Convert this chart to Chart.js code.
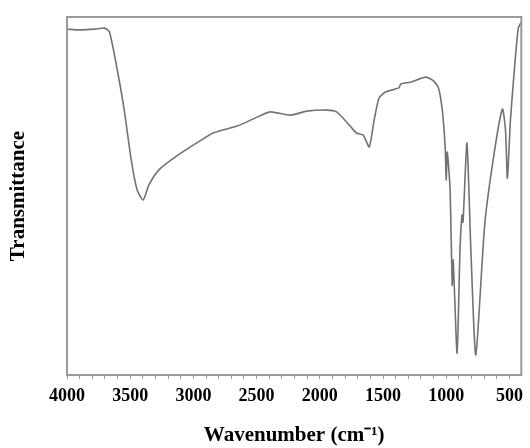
<!DOCTYPE html>
<html>
<head>
<meta charset="utf-8">
<script src="https://cdn.jsdelivr.net/npm/chart.js@4.4.1/dist/chart.umd.min.js"></script>
<style>
  html, body { margin: 0; padding: 0; background: #fff; }
  #wrap { width: 530px; height: 448px; }
</style>
</head>
<body>
<div id="wrap"><canvas id="irChart" width="530" height="448"></canvas></div>
<script>
// IR spectrum (transmittance in arbitrary units 0-100)
const wavenumbers = [4000, 3898, 3781, 3703, 3664, 3602, 3547, 3492, 3445, 3398,
  3352, 3273, 3156, 2961, 2844, 2648, 2492, 2391, 2234, 2102,
  1945, 1867, 1766, 1711, 1656, 1609, 1570, 1531, 1477, 1375,
  1359, 1281, 1164, 1109, 1063, 1031, 1008, 1000, 992, 969,
  953, 945, 914, 891, 875, 867, 836, 805, 766, 695,
  617, 555, 531, 516, 492, 461, 430, 406];
const transmittance = [96.6, 96.4, 96.6, 96.9, 95.8, 85.2, 74.0, 60.1, 51.7, 48.9,
  53.1, 57.3, 60.6, 65.1, 67.6, 69.6, 72.1, 73.5, 72.6, 73.7,
  74.0, 73.5, 69.8, 67.6, 67.0, 63.7, 71.2, 77.4, 79.1, 80.2,
  81.3, 81.8, 83.2, 82.4, 80.4, 74.0, 63.4, 54.5, 62.3, 51.7,
  25.1, 32.1, 6.1, 34.9, 44.7, 42.7, 64.8, 34.9, 5.6, 42.2,
  62.8, 74.3, 68.4, 55.0, 71.2, 85.2, 96.9, 98.6];
const majorTicks = [4000, 3500, 3000, 2500, 2000, 1500, 1000, 500];

const minorTicks = [];
for (let w = 4000; w >= 500; w -= 100) minorTicks.push(w);

const frameBox = {
  id: "frameBox",
  afterDraw(chart) {
    const { ctx, chartArea: a } = chart;
    ctx.save();
    ctx.strokeStyle = "#9a9a9a";
    ctx.lineWidth = 2;
    ctx.strokeRect(a.left, a.top, a.right - a.left, a.bottom - a.top);
    ctx.restore();
  }
};

new Chart(document.getElementById("irChart"), {
  type: "line",
  data: {
    datasets: [{
      data: wavenumbers.map((w, i) => ({ x: w, y: transmittance[i] })),
      borderColor: "#727272",
      borderWidth: 1.6,
      pointRadius: 0,
      tension: 0.2,
      fill: false
    }]
  },
  options: {
    responsive: false,
    animation: false,
    layout: { padding: { left: 0, right: 3, top: 17, bottom: 0 } },
    plugins: { legend: { display: false }, tooltip: { enabled: false } },
    scales: {
      x: {
        type: "linear",
        reverse: true,
        min: 406,
        max: 4000,
        afterBuildTicks: s => { s.ticks = minorTicks.map(v => ({ value: v })); },
        afterFit: s => { s.height = 73; },
        grid: { drawOnChartArea: false, drawTicks: true, tickLength: 4, color: "#9a9a9a" },
        border: { display: false },
        ticks: {
          autoSkip: false,
          maxRotation: 0,
          padding: 7,
          color: "#000",
          font: { family: "Liberation Serif", size: 18, weight: "bold" },
          callback: v => majorTicks.includes(v) ? String(v) : ""
        },
        title: {
          display: true,
          text: "Wavenumber (cm⁻¹)",
          color: "#000",
          font: { family: "Liberation Serif", size: 21, weight: "bold" },
          padding: { top: 0, bottom: 0 }
        }
      },
      y: {
        min: 0,
        max: 100,
        afterFit: s => { s.width = 67; },
        grid: { display: false },
        border: { display: false },
        ticks: { display: false },
        title: {
          display: true,
          text: "Transmittance",
          color: "#000",
          font: { family: "Liberation Serif", size: 21, weight: "bold" },
          padding: { top: 6, bottom: 0 }
        }
      }
    }
  },
  plugins: [frameBox]
});
</script>
</body>
</html>
